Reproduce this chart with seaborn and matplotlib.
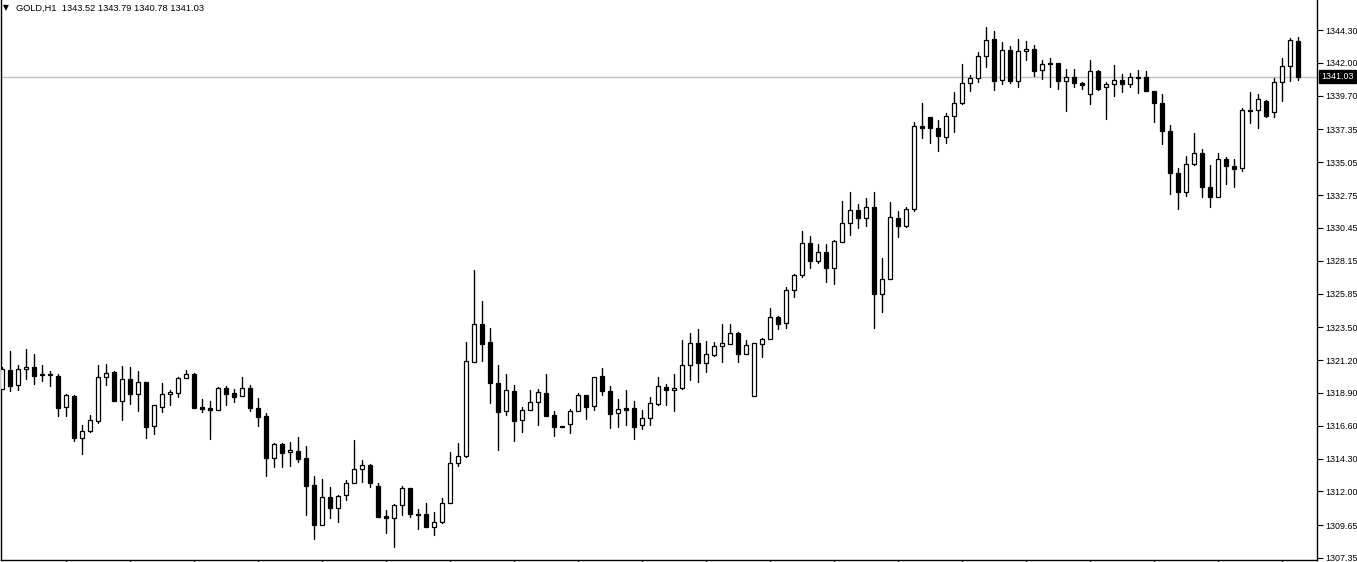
import numpy as np
import pandas as pd
import matplotlib
matplotlib.use("Agg")
import matplotlib.pyplot as plt
import matplotlib.transforms as mtransforms
import seaborn as sns

symbol = "GOLD,H1"

opens = [
    1319.15, 1320.50, 1319.43, 1320.55, 1320.69, 1320.22, 1320.22, 1320.08, 1317.89, 1318.68,
    1315.76, 1316.21, 1316.95, 1319.99, 1320.36, 1318.35, 1319.87, 1318.80, 1319.66, 1316.56,
    1317.93, 1318.80, 1318.91, 1319.92, 1320.22, 1317.89, 1317.82, 1317.72, 1319.22, 1318.89,
    1318.66, 1319.22, 1317.82, 1317.26, 1314.32, 1315.30, 1314.74, 1314.81, 1314.32, 1312.45,
    1309.67, 1311.59, 1310.86, 1311.73, 1312.57, 1313.55, 1313.83, 1312.36, 1310.28, 1310.16,
    1311.03, 1312.22, 1310.42, 1310.40, 1309.49, 1309.84, 1311.17, 1313.99, 1314.48, 1321.04,
    1323.70, 1322.46, 1319.57, 1317.61, 1319.01, 1316.98, 1317.68, 1318.24, 1318.87, 1317.33,
    1316.58, 1316.70, 1317.61, 1318.73, 1317.96, 1320.06, 1319.01, 1317.47, 1317.82, 1317.82,
    1316.63, 1317.12, 1318.14, 1319.29, 1319.08, 1319.26, 1320.83, 1322.37, 1321.01, 1321.57,
    1322.16, 1322.34, 1323.07, 1321.64, 1318.66, 1322.30, 1322.65, 1324.23, 1323.77, 1326.10,
    1327.15, 1329.37, 1328.11, 1328.76, 1327.62, 1329.44, 1330.77, 1331.68, 1331.12, 1331.89,
    1325.80, 1326.89, 1331.12, 1330.60, 1331.75, 1337.56, 1338.19, 1337.42, 1336.79, 1338.26,
    1339.17, 1340.57, 1340.92, 1342.46, 1343.65, 1340.78, 1342.88, 1340.71, 1342.81, 1342.95,
    1341.48, 1341.97, 1341.97, 1340.71, 1340.99, 1340.57, 1339.80, 1341.41, 1340.29, 1340.50,
    1340.78, 1340.50, 1340.99, 1340.99, 1340.01, 1339.17, 1337.25, 1334.27, 1332.98, 1334.90,
    1335.67, 1333.33, 1332.59, 1335.27, 1334.78, 1334.62, 1338.70, 1338.70, 1339.33, 1338.54,
    1340.64, 1341.76, 1343.52,
]

highs = [
    1320.71, 1321.83, 1320.85, 1321.97, 1321.62, 1320.85, 1320.43, 1320.22, 1318.84, 1318.75,
    1316.65, 1317.35, 1320.85, 1320.92, 1320.43, 1320.78, 1320.71, 1320.43, 1319.66, 1318.05,
    1319.61, 1319.10, 1320.03, 1320.50, 1320.29, 1318.47, 1318.33, 1319.31, 1319.38, 1319.17,
    1320.01, 1319.45, 1318.54, 1317.47, 1315.37, 1315.37, 1315.44, 1315.81, 1315.18, 1313.08,
    1312.87, 1312.31, 1311.73, 1312.80, 1315.58, 1314.20, 1313.90, 1312.57, 1310.70, 1311.12,
    1312.38, 1312.22, 1310.75, 1311.19, 1310.56, 1311.52, 1314.74, 1315.41, 1322.46, 1327.50,
    1325.33, 1323.42, 1320.83, 1320.22, 1319.43, 1317.91, 1319.10, 1319.15, 1320.22, 1317.63,
    1316.58, 1317.75, 1318.87, 1318.73, 1319.99, 1320.64, 1319.38, 1318.47, 1319.10, 1318.35,
    1317.70, 1318.59, 1320.01, 1319.52, 1320.22, 1322.60, 1323.07, 1323.35, 1322.53, 1322.46,
    1323.72, 1323.72, 1323.14, 1322.60, 1322.37, 1322.74, 1324.86, 1324.30, 1326.33, 1327.22,
    1330.23, 1329.88, 1329.32, 1329.32, 1329.60, 1332.33, 1332.96, 1332.12, 1332.52, 1332.96,
    1328.32, 1332.24, 1331.61, 1331.89, 1337.84, 1339.19, 1338.19, 1338.02, 1338.47, 1339.96,
    1341.92, 1341.13, 1342.74, 1344.51, 1344.23, 1343.44, 1343.16, 1343.65, 1343.51, 1343.23,
    1342.18, 1342.32, 1341.97, 1341.55, 1341.55, 1340.66, 1342.18, 1341.48, 1340.64, 1341.85,
    1341.20, 1341.27, 1341.48, 1341.41, 1340.01, 1339.80, 1337.65, 1334.64, 1335.46, 1337.09,
    1335.97, 1334.85, 1335.67, 1335.43, 1335.27, 1338.82, 1339.96, 1339.82, 1339.38, 1340.92,
    1342.34, 1343.74, 1343.79,
]

lows = [
    1319.15, 1319.05, 1319.10, 1319.89, 1319.54, 1319.75, 1319.40, 1317.30, 1317.30, 1315.55,
    1314.64, 1316.14, 1316.81, 1319.47, 1318.35, 1317.00, 1318.14, 1317.65, 1315.76, 1316.02,
    1317.58, 1318.07, 1318.63, 1319.92, 1317.86, 1317.58, 1315.69, 1317.72, 1318.07, 1318.28,
    1318.66, 1317.65, 1316.60, 1313.10, 1313.73, 1313.73, 1313.80, 1314.08, 1310.37, 1308.69,
    1309.67, 1310.17, 1309.88, 1311.38, 1312.57, 1312.68, 1312.33, 1310.23, 1309.11, 1308.13,
    1310.37, 1310.23, 1309.35, 1309.53, 1308.97, 1309.77, 1311.17, 1313.78, 1314.41, 1321.04,
    1321.15, 1318.21, 1314.90, 1317.33, 1315.55, 1316.18, 1317.68, 1316.67, 1317.30, 1315.90,
    1316.49, 1316.07, 1317.61, 1317.09, 1317.72, 1318.77, 1316.42, 1316.53, 1316.67, 1315.65,
    1316.39, 1316.65, 1318.03, 1318.05, 1317.65, 1319.19, 1319.80, 1319.68, 1320.38, 1321.50,
    1321.08, 1322.30, 1321.08, 1321.64, 1318.66, 1321.43, 1322.65, 1323.35, 1323.42, 1325.63,
    1327.03, 1327.66, 1327.97, 1326.68, 1326.50, 1329.44, 1329.93, 1330.46, 1330.60, 1323.46,
    1324.58, 1326.89, 1329.83, 1330.53, 1331.65, 1336.72, 1336.37, 1335.85, 1336.37, 1337.14,
    1339.10, 1340.01, 1340.64, 1341.69, 1340.08, 1340.50, 1340.57, 1340.29, 1342.18, 1341.06,
    1340.85, 1340.29, 1340.15, 1338.61, 1340.29, 1340.15, 1339.10, 1340.08, 1338.09, 1339.70,
    1339.98, 1340.29, 1339.91, 1340.05, 1337.88, 1336.30, 1332.84, 1331.75, 1332.70, 1334.83,
    1332.63, 1331.89, 1332.59, 1333.50, 1333.29, 1334.41, 1337.81, 1337.46, 1338.23, 1338.23,
    1339.31, 1340.75, 1340.78,
]

closes = [
    1320.55, 1319.40, 1320.55, 1320.69, 1320.10, 1320.13, 1320.13, 1317.86, 1318.75, 1315.76,
    1316.23, 1317.00, 1319.99, 1320.27, 1318.35, 1319.87, 1318.84, 1319.66, 1316.53, 1318.05,
    1318.82, 1318.96, 1319.94, 1320.22, 1317.86, 1317.77, 1317.72, 1319.22, 1318.84, 1318.63,
    1319.22, 1317.86, 1317.23, 1314.36, 1315.30, 1314.71, 1314.88, 1314.29, 1312.40, 1309.67,
    1311.59, 1310.86, 1311.66, 1312.57, 1313.55, 1313.83, 1312.61, 1310.23, 1310.16, 1311.03,
    1312.22, 1310.44, 1310.35, 1309.53, 1309.84, 1311.17, 1313.97, 1314.48, 1321.13, 1323.70,
    1322.34, 1319.57, 1317.58, 1319.08, 1316.95, 1317.68, 1318.24, 1318.94, 1317.30, 1316.53,
    1316.49, 1317.61, 1318.73, 1317.93, 1319.99, 1319.01, 1317.40, 1317.75, 1317.72, 1316.53,
    1317.12, 1318.17, 1319.36, 1319.08, 1319.26, 1320.83, 1322.37, 1321.01, 1321.60, 1322.16,
    1322.37, 1323.07, 1321.64, 1322.23, 1322.37, 1322.65, 1324.19, 1323.70, 1326.10, 1327.13,
    1329.37, 1328.11, 1328.76, 1327.62, 1329.53, 1330.77, 1331.68, 1331.12, 1331.89, 1325.80,
    1326.89, 1331.19, 1330.60, 1331.75, 1337.56, 1337.42, 1337.42, 1336.86, 1338.26, 1339.17,
    1340.57, 1340.92, 1342.46, 1343.58, 1340.75, 1342.88, 1340.71, 1342.81, 1342.95, 1341.45,
    1341.90, 1341.90, 1340.71, 1340.99, 1340.57, 1340.43, 1341.41, 1340.17, 1340.50, 1340.78,
    1340.50, 1340.99, 1340.92, 1340.05, 1339.17, 1337.25, 1334.27, 1332.98, 1334.90, 1335.67,
    1333.33, 1332.59, 1335.27, 1334.80, 1334.55, 1338.70, 1338.65, 1339.45, 1338.28, 1340.64,
    1341.76, 1343.58, 1341.03,
]

price_ticks = [1344.30, 1342.00, 1339.70, 1337.35, 1335.05, 1332.75, 1330.45, 1328.15,
               1325.85, 1323.50, 1321.20, 1318.90, 1316.60, 1314.30, 1312.00, 1309.65, 1307.35]

n = min(len(opens), len(highs), len(lows), len(closes))
idx = np.arange(n)
o = np.array(opens[:n]); h = np.array(highs[:n]); l = np.array(lows[:n]); c = np.array(closes[:n])

sns.set_theme(style="white")
plt.rcParams["font.family"] = ["Liberation Sans", "DejaVu Sans"]

W, H = 1357, 562
fig = plt.figure(figsize=(W / 100, H / 100), dpi=100)
fig.patch.set_facecolor("white")
ax = fig.add_axes([0.5 / W, 2 / H, (1316.5 - 0.5) / W, 560 / H])
ax.set_facecolor("white")

# wicks
wick_df = pd.DataFrame({
    "idx": np.repeat(idx, 2),
    "price": np.column_stack([l, h]).ravel(),
})
sns.lineplot(data=wick_df, x="idx", y="price", units="idx", estimator=None,
             color="black", linewidth=1, ax=ax, legend=False, sort=False, zorder=2)

# bodies
bottoms = np.minimum(o, c)
heights = np.maximum(np.abs(c - o), 0.03)
fills = np.where(c < o, "black", "white")
ax.bar(idx, heights, bottom=bottoms, width=0.55, color=fills,
       edgecolor="black", linewidth=0.9, zorder=3)

last_close = c[-1]
ax.axhline(last_close, color="#c0c0c0", linewidth=1, zorder=1)

ax.set_xlim(-0.16, 164.34)
ax.set_ylim(1307.20, 1346.40)
ax.set_xlabel("")
ax.set_ylabel("")

ax.yaxis.tick_right()
ax.set_yticks(price_ticks)
ax.set_yticklabels([f"{v:.2f}" for v in price_ticks])
ax.tick_params(axis="y", direction="out", length=4, width=0.8, colors="black",
               labelsize=6.4, pad=2, right=True, left=False)
ax.set_xticks(list(range(8, n, 8)))
ax.tick_params(axis="x", direction="out", length=3, width=0.8, colors="black",
               labelbottom=False, bottom=True)

for side in ["left", "right", "bottom"]:
    ax.spines[side].set_visible(True)
    ax.spines[side].set_color("black")
    ax.spines[side].set_linewidth(1)
ax.spines["top"].set_visible(False)

# current price label
trans = mtransforms.blended_transform_factory(fig.transFigure, ax.transData)
ax.text(1321 / W, last_close, f"{last_close:.2f}", transform=trans, ha="left", va="center",
        color="white", fontsize=6.4, clip_on=False, zorder=5,
        bbox=dict(boxstyle="square,pad=0.25", fc="black", ec="black"))

# header
fig.text(3 / W, 1 - 8 / H, "▼", fontsize=5.5, family="DejaVu Sans", va="center", ha="left", color="black")
header = f"{symbol}  {o[-1]:.2f} {h[-1]:.2f} {l[-1]:.2f} {c[-1]:.2f}"
fig.text(16 / W, 1 - 8 / H, header, fontsize=6.7, va="center", ha="left", color="black")

fig.savefig("out.png", dpi=100, facecolor="white")
